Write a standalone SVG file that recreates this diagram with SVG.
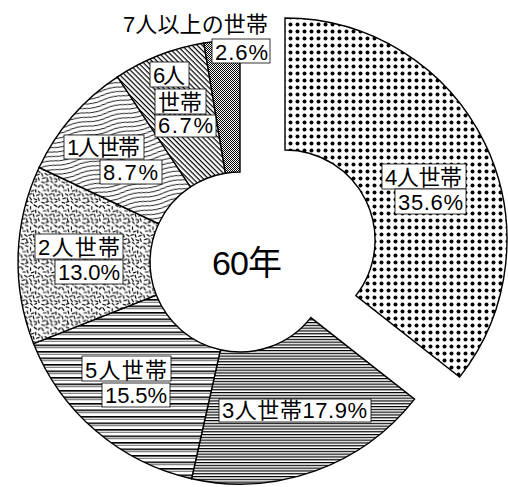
<svg xmlns="http://www.w3.org/2000/svg" width="508" height="487" viewBox="0 0 508 487">
<style>
.slice{stroke:#000;stroke-width:1.4;stroke-linejoin:miter}
.lbl{font-family:"Liberation Sans","Noto Sans CJK JP",sans-serif;font-size:22px;fill:#000}
.box{fill:#fff;stroke:#000;stroke-width:0.8}
</style>
<defs>
<pattern id="dots" width="7" height="7" patternUnits="userSpaceOnUse">
<rect width="7" height="7" fill="#fff"/>
<circle cx="3.5" cy="3.5" r="2" fill="#000"/>
</pattern>
<pattern id="fineLines" width="6" height="2.8" patternUnits="userSpaceOnUse">
<rect width="6" height="2.8" fill="#fff"/>
<rect y="0" width="6" height="1.2" fill="#000"/>
</pattern>
<pattern id="bands" width="8" height="6.5" patternUnits="userSpaceOnUse">
<rect width="8" height="6.5" fill="#fff"/>
<rect y="0" width="8" height="1.6" fill="#000"/>
<rect y="2.8" width="8" height="0.9" fill="#555"/>
</pattern>
<pattern id="dashes" width="24" height="24" patternUnits="userSpaceOnUse" patternTransform="scale(0.85)">
<rect width="24" height="24" fill="#fff"/>
<path d="M1,2L3,5M6,1L9,2M12,3L12,6M16,1L19,3M21,4L23,2M3,8L6,8M8,6L9,9M13,9L16,8M18,7L18,10M21,9L23,11M1,12L2,15M5,12L8,14M10,13L13,12M15,12L16,15M19,14L22,13M2,18L5,17M7,17L8,20M11,16L13,19M16,18L19,19M21,17L22,20M1,22L4,23M6,22L9,21M12,21L14,23M17,22L19,21" stroke="#000" stroke-width="1.4" fill="none" stroke-linecap="round"/>
</pattern>
<pattern id="waves" width="40" height="4.5" patternUnits="userSpaceOnUse" patternTransform="rotate(-12)">
<rect width="40" height="4.5" fill="#fff"/>
<path d="M0,2.2C7,0.6 13,0.6 20,2.2S33,3.8 40,2.2" stroke="#000" stroke-width="0.9" fill="none"/>
</pattern>
<pattern id="hatch" width="6" height="3.6" patternUnits="userSpaceOnUse" patternTransform="rotate(45)">
<rect width="6" height="3.6" fill="#fff"/>
<rect width="6" height="1.2" fill="#000"/>
</pattern>
<pattern id="gray" width="2" height="2" patternUnits="userSpaceOnUse">
<rect width="2" height="2" fill="#fff"/>
<rect width="1" height="1" fill="#000"/>
<rect x="1" y="1" width="1" height="1" fill="#000"/>
</pattern>
</defs>
<rect width="508" height="487" fill="#fff"/>

<g id="slice-4">
<path class="slice" fill="url(#dots)" d="M285,18A222,222 0 0 1 459.6,377.1L355.8,295.6A90,90 0 0 0 285,150Z"/>
<rect class="box" x="382" y="164" width="84" height="25"/>
<text class="lbl" x="385" y="185" textLength="77" lengthAdjust="spacing">4人世帯</text>
<rect class="box" x="395" y="189" width="71" height="25"/>
<text class="lbl" x="398" y="210" textLength="65" lengthAdjust="spacing">35.6%</text>
</g>

<g id="slice-3">
<path class="slice" fill="url(#fineLines)" d="M414.6,399.1A222,222 0 0 1 191.6,478.7L220.4,349.8A90,90 0 0 0 310.8,317.6Z"/>
<rect class="box" x="219" y="399" width="152" height="23"/>
<text class="lbl" x="222" y="418" textLength="145" lengthAdjust="spacing">3人世帯17.9%</text>
</g>

<g id="slice-5">
<path class="slice" fill="url(#bands)" d="M191.6,478.7A222,222 0 0 1 33.6,343.7L156.3,295.1A90,90 0 0 0 220.4,349.8Z"/>
<rect class="box" x="82" y="356" width="89" height="25"/>
<text class="lbl" x="85" y="378" textLength="82" lengthAdjust="spacing">5人世帯</text>
<rect class="box" x="102" y="383" width="68" height="24"/>
<text class="lbl" x="105" y="403" textLength="62" lengthAdjust="spacing">15.5%</text>
</g>

<g id="slice-2">
<path class="slice" fill="url(#dashes)" d="M33.6,343.7A222,222 0 0 1 39.1,167.5L158.6,223.7A90,90 0 0 0 156.3,295.1Z"/>
<rect class="box" x="35" y="234" width="88" height="25"/>
<text class="lbl" x="38" y="255" textLength="82" lengthAdjust="spacing">2人世帯</text>
<rect class="box" x="55" y="260" width="68" height="24"/>
<text class="lbl" x="58" y="280" textLength="62" lengthAdjust="spacing">13.0%</text>
</g>

<g id="slice-1">
<path class="slice" fill="url(#waves)" d="M39.1,167.5A222,222 0 0 1 117.5,76.8L190.4,186.9A90,90 0 0 0 158.6,223.7Z"/>
<rect class="box" x="64" y="135" width="80" height="24"/>
<text class="lbl" x="67" y="155" textLength="73" lengthAdjust="spacing">1人世帯</text>
<rect class="box" x="100" y="160" width="62" height="24"/>
<text class="lbl" x="103" y="180" textLength="55" lengthAdjust="spacing">8.7%</text>
</g>

<g id="slice-6">
<path class="slice" fill="url(#hatch)" d="M117.5,76.8A222,222 0 0 1 203.9,43L225.4,173.2A90,90 0 0 0 190.4,186.9Z"/>
<rect class="box" x="150" y="62" width="39" height="25"/>
<text class="lbl" x="153" y="83" textLength="32" lengthAdjust="spacing">6人</text>
<rect class="box" x="155" y="89" width="51" height="25"/>
<text class="lbl" x="158" y="110" textLength="44" lengthAdjust="spacing">世帯</text>
<rect class="box" x="155" y="115" width="61" height="22"/>
<text class="lbl" x="158" y="133" textLength="55" lengthAdjust="spacing">6.7%</text>
</g>

<g id="slice-7">
<path class="slice" fill="url(#gray)" d="M203.9,43A222,222 0 0 1 240,40L240,172A90,90 0 0 0 225.4,173.2Z"/>
<rect class="box" x="212" y="39" width="58" height="24"/>
<text class="lbl" x="215" y="60" textLength="53" lengthAdjust="spacing">2.6%</text>
<text class="lbl" x="123" y="32" textLength="145" lengthAdjust="spacing">7人以上の世帯</text>
</g>

<g id="center">
<text class="lbl" x="212" y="275" style="font-size:34px" textLength="70" lengthAdjust="spacing">60年</text>
</g>
</svg>
